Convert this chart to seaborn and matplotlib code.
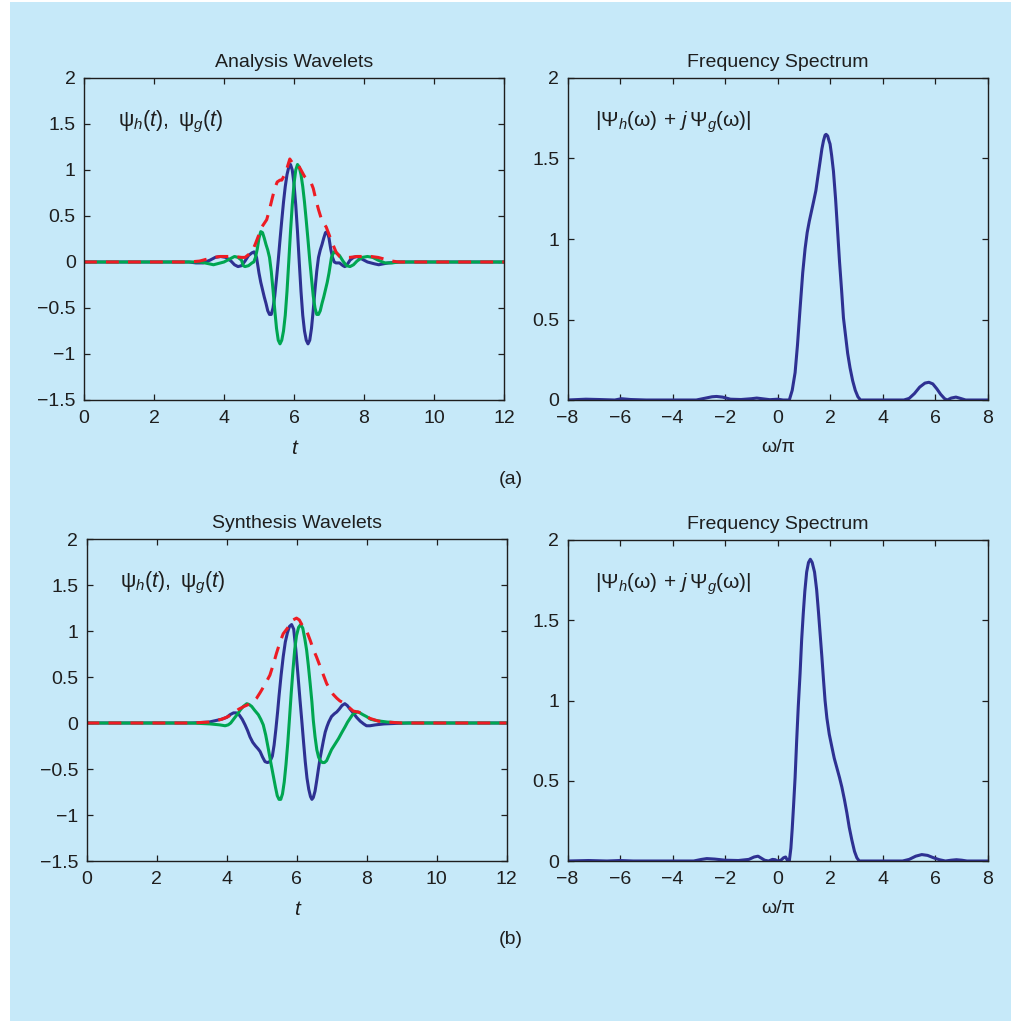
import numpy as np
import pandas as pd
import matplotlib
matplotlib.use("Agg")
import matplotlib.pyplot as plt
import seaborn as sns
from matplotlib.patches import Rectangle

# ---------------- data ----------------
# (a) Analysis wavelets
ta_h = [0, 3.0, 3.2, 3.4, 3.6, 3.75, 3.9, 4.05, 4.2, 4.3, 4.4, 4.5, 4.6, 4.7, 4.8, 4.86, 4.93,
        5.0, 5.05, 5.1, 5.15, 5.2, 5.25, 5.3, 5.35, 5.4, 5.45, 5.5, 5.55, 5.6, 5.65, 5.7, 5.75,
        5.8, 5.85, 5.9, 5.95, 6.0, 6.05, 6.1, 6.15, 6.2, 6.25, 6.3, 6.35, 6.4, 6.45, 6.5, 6.55,
        6.6, 6.65, 6.7, 6.75, 6.8, 6.85, 6.9, 6.95, 7.0, 7.05, 7.1, 7.15, 7.2, 7.3, 7.4, 7.45,
        7.5, 7.6, 7.7, 7.8, 7.9, 8.0, 8.1, 8.2, 8.3, 8.42, 8.55, 8.7, 9.0, 12]
va_h = [0, 0, -0.01, -0.01, 0.02, 0.05, 0.06, 0.05, 0.01, -0.03, -0.05, -0.04, 0.01, 0.07, 0.10, 0.11, 0.05,
        -0.12, -0.22, -0.30, -0.38, -0.45, -0.53, -0.57, -0.57, -0.50, -0.37, -0.18, 0.02, 0.24, 0.45, 0.65, 0.82,
        0.95, 1.03, 1.06, 1.00, 0.85, 0.62, 0.33, 0.0, -0.32, -0.58, -0.75, -0.85, -0.89, -0.85, -0.72, -0.52,
        -0.30, -0.10, 0.05, 0.13, 0.19, 0.26, 0.32, 0.33, 0.26, 0.14, 0.05, 0.0, -0.01, -0.01, -0.04, -0.05,
        -0.04, 0.02, 0.05, 0.06, 0.04, 0.02, 0.0, -0.01, -0.02, -0.03, -0.02, -0.01, 0, 0]

ta_g = [0, 3.0, 3.3, 3.45, 3.58, 3.7, 3.8, 3.9, 4.0, 4.1, 4.2, 4.3, 4.4, 4.5, 4.55, 4.6, 4.7, 4.8,
        4.85, 4.9, 4.95, 5.0, 5.05, 5.1, 5.15, 5.2, 5.25, 5.3, 5.35, 5.4, 5.45, 5.5, 5.55, 5.6, 5.65,
        5.7, 5.75, 5.8, 5.85, 5.9, 5.95, 6.0, 6.05, 6.1, 6.15, 6.2, 6.25, 6.3, 6.35, 6.4, 6.45, 6.5,
        6.55, 6.6, 6.65, 6.7, 6.75, 6.8, 6.85, 6.9, 6.95, 7.0, 7.07, 7.14, 7.2, 7.3, 7.4, 7.5, 7.6,
        7.7, 7.8, 7.95, 8.1, 8.25, 8.4, 8.6, 8.8, 9.0, 12]
va_g = [0, 0, 0, -0.01, -0.02, -0.03, -0.02, -0.01, 0.0, 0.02, 0.04, 0.06, 0.05, 0.02, -0.04, -0.05, -0.04, -0.01,
        0.0, 0.05, 0.14, 0.26, 0.33, 0.32, 0.26, 0.19, 0.13, 0.05, -0.10, -0.30, -0.52, -0.72, -0.85, -0.89, -0.85,
        -0.75, -0.58, -0.32, 0.0, 0.33, 0.62, 0.85, 1.00, 1.06, 1.03, 0.95, 0.82, 0.65, 0.45, 0.24, 0.02, -0.18,
        -0.37, -0.50, -0.57, -0.57, -0.53, -0.45, -0.38, -0.30, -0.22, -0.12, 0.05, 0.11, 0.10, 0.07, 0.01, -0.04, -0.05,
        -0.03, 0.01, 0.05, 0.06, 0.05, 0.02, -0.01, -0.01, 0, 0]

ta_e = [0, 3.0, 3.3, 3.5, 3.7, 3.9, 4.1, 4.3, 4.5, 4.6, 4.7, 4.8, 4.9, 5.0, 5.08, 5.15, 5.22, 5.3,
        5.37, 5.45, 5.52, 5.6, 5.65, 5.72, 5.8, 5.88, 5.95, 6.02, 6.1, 6.2, 6.3, 6.4, 6.48, 6.55,
        6.63, 6.7, 6.78, 6.85, 6.92, 7.0, 7.1, 7.2, 7.3, 7.4, 7.5, 7.6, 7.8, 8.0, 8.2, 8.4, 8.6,
        8.8, 9.0, 12]
va_e = [0, 0, 0.01, 0.03, 0.05, 0.06, 0.06, 0.06, 0.05, 0.05, 0.08, 0.11, 0.20, 0.30, 0.38, 0.42, 0.46, 0.57,
        0.68, 0.80, 0.87, 0.89, 0.89, 0.94, 1.02, 1.12, 1.08, 1.07, 1.07, 1.00, 0.93, 0.89, 0.87, 0.80,
        0.67, 0.57, 0.47, 0.42, 0.38, 0.30, 0.20, 0.11, 0.06, 0.05, 0.05, 0.05, 0.06, 0.06, 0.06, 0.05, 0.03,
        0.01, 0.0, 0]

# (a) spectrum
wa = [-8, -7.3, -6.8, -6.2, -5.95, -5.6, -5.0, -3.1, -2.8, -2.5, -2.33, -2.1, -1.8, -1.4, -1.0, -0.8,
      -0.6, -0.3, 0.0, 0.2, 0.44, 0.55, 0.66, 0.75, 0.85, 0.95, 1.04, 1.12, 1.2, 1.28, 1.36, 1.45,
      1.52, 1.61, 1.68, 1.74, 1.8, 1.84, 1.9, 1.95, 1.99, 2.05, 2.12, 2.2, 2.27, 2.35, 2.43, 2.5,
      2.58, 2.66, 2.75, 2.85, 2.95, 3.05, 3.15, 4.8, 5.0, 5.2, 5.4, 5.6, 5.75, 5.9, 6.05, 6.2,
      6.35, 6.45, 6.6, 6.78, 6.95, 7.15, 8]
sa = [0, 0.005, 0.003, 0.0, 0.008, 0.003, 0.0, 0.0, 0.01, 0.02, 0.022, 0.018, 0.005, 0.003, 0.008, 0.012,
      0.008, 0.002, 0.005, 0.0, 0.0, 0.06, 0.17, 0.34, 0.57, 0.79, 0.94, 1.04, 1.11, 1.17, 1.23, 1.30,
      1.38, 1.48, 1.56, 1.61, 1.645, 1.65, 1.64, 1.61, 1.59, 1.52, 1.42, 1.25, 1.07, 0.86, 0.68, 0.51,
      0.40, 0.29, 0.20, 0.12, 0.06, 0.02, 0.0, 0.0, 0.01, 0.04, 0.08, 0.105, 0.11, 0.10, 0.07, 0.035,
      0.008, 0.0, 0.012, 0.018, 0.01, 0.0, 0]

# (b) Synthesis wavelets
tb_h = [0, 3.0, 3.5, 3.85, 4.0, 4.1, 4.2, 4.28, 4.36, 4.45, 4.53, 4.6, 4.67, 4.75, 4.83, 4.9, 4.96,
        5.03, 5.1, 5.17, 5.24, 5.31, 5.36, 5.41, 5.46, 5.5, 5.56, 5.62, 5.68, 5.74, 5.8, 5.86, 5.92,
        5.98, 6.04, 6.1, 6.15, 6.2, 6.25, 6.3, 6.35, 6.4, 6.44, 6.48, 6.53, 6.58, 6.63, 6.68, 6.72,
        6.77, 6.82, 6.87, 6.92, 7.0, 7.08, 7.15, 7.22, 7.3, 7.38, 7.45, 7.53, 7.62, 7.72, 7.82, 7.92,
        8.0, 8.1, 8.26, 8.5, 8.8, 9.2, 12]
vb_h = [0, 0, 0.01, 0.04, 0.06, 0.09, 0.11, 0.11, 0.09, 0.04, -0.02, -0.08, -0.15, -0.21, -0.25, -0.28, -0.31,
        -0.37, -0.42, -0.43, -0.42, -0.36, -0.24, -0.07, 0.12, 0.29, 0.52, 0.72, 0.88, 0.98, 1.05, 1.07, 1.02,
        0.80, 0.53, 0.25, 0.03, -0.20, -0.42, -0.60, -0.72, -0.80, -0.83, -0.81, -0.74, -0.62, -0.49, -0.37, -0.29,
        -0.19, -0.10, -0.04, 0.01, 0.07, 0.10, 0.12, 0.15, 0.19, 0.21, 0.19, 0.15, 0.11, 0.06, 0.02, -0.01,
        -0.03, -0.03, -0.02, -0.01, -0.005, 0, 0]

tb_g = [0, 3.0, 3.53, 3.8, 3.96, 4.05, 4.12, 4.2, 4.3, 4.39, 4.48, 4.58, 4.65, 4.72, 4.8, 4.91, 4.98,
        5.05, 5.12, 5.2, 5.27, 5.34, 5.4, 5.45, 5.5, 5.55, 5.6, 5.65, 5.7, 5.75, 5.8, 5.85, 5.9, 5.95,
        6.0, 6.06, 6.12, 6.18, 6.24, 6.29, 6.34, 6.39, 6.44, 6.48, 6.53, 6.58, 6.63, 6.68, 6.74, 6.8,
        6.86, 6.93, 7.0, 7.1, 7.2, 7.3, 7.39, 7.46, 7.53, 7.6, 7.67, 7.75, 7.81, 7.9, 8.0, 8.12, 8.24,
        8.4, 8.6, 9.0, 12]
vb_g = [0, 0, -0.01, -0.02, -0.03, -0.02, 0.0, 0.04, 0.09, 0.14, 0.18, 0.21, 0.20, 0.18, 0.14, 0.09, 0.04,
        -0.02, -0.13, -0.29, -0.44, -0.58, -0.70, -0.79, -0.83, -0.83, -0.77, -0.64, -0.45, -0.22, 0.05, 0.33, 0.58, 0.80,
        0.95, 1.04, 1.07, 1.03, 0.91, 0.79, 0.62, 0.43, 0.23, 0.03, -0.15, -0.29, -0.37, -0.41, -0.43, -0.43,
        -0.41, -0.35, -0.29, -0.23, -0.17, -0.10, -0.04, 0.01, 0.05, 0.09, 0.11, 0.12, 0.11, 0.09, 0.07, 0.04, 0.03,
        0.02, 0.01, 0, 0]

tb_e = [0, 3.0, 3.5, 3.86, 4.05, 4.2, 4.35, 4.5, 4.62, 4.75, 4.86, 4.96, 5.1, 5.24, 5.34, 5.43, 5.53,
        5.62, 5.72, 5.8, 5.9, 6.0, 6.08, 6.18, 6.3, 6.39, 6.48, 6.57, 6.67, 6.77, 6.86, 6.96, 7.05,
        7.15, 7.24, 7.34, 7.43, 7.53, 7.62, 7.75, 7.86, 7.95, 8.1, 8.34, 8.6, 9.0, 12]
vb_e = [0, 0, 0.01, 0.04, 0.07, 0.11, 0.15, 0.18, 0.20, 0.23, 0.27, 0.33, 0.42, 0.52, 0.64, 0.76, 0.88,
        0.97, 1.02, 1.06, 1.12, 1.14, 1.12, 1.05, 0.99, 0.90, 0.80, 0.72, 0.62, 0.52, 0.43, 0.36, 0.31,
        0.27, 0.24, 0.22, 0.20, 0.16, 0.13, 0.12, 0.11, 0.08, 0.05, 0.02, 0.01, 0.0, 0]

# (b) spectrum
wb = [-8, -7.2, -6.5, -6.0, -5.5, -3.2, -2.9, -2.7, -2.4, -2.0, -1.5, -1.1, -0.9, -0.75, -0.6, -0.5,
      -0.35, -0.2, -0.1, 0.0, 0.12, 0.22, 0.3, 0.38, 0.44, 0.5, 0.55, 0.6, 0.66, 0.72, 0.78, 0.85,
      0.91, 0.97, 1.03, 1.1, 1.17, 1.24, 1.31, 1.4, 1.48, 1.55, 1.61, 1.68, 1.74, 1.8, 1.87, 1.96,
      2.06, 2.15, 2.25, 2.35, 2.44, 2.54, 2.63, 2.72, 2.82, 2.92, 3.01, 3.1, 4.75, 5.0, 5.25, 5.48,
      5.7, 5.93, 6.15, 6.38, 6.6, 6.8, 7.0, 7.2, 8]
sb = [0, 0.003, 0.0, 0.003, 0.0, 0.0, 0.01, 0.015, 0.012, 0.005, 0.003, 0.01, 0.025, 0.03, 0.015, 0.005,
      0.0, 0.01, 0.008, 0.0, 0.005, 0.02, 0.025, 0.0, 0.0, 0.08, 0.20, 0.34, 0.52, 0.75, 0.96, 1.17,
      1.38, 1.54, 1.68, 1.80, 1.86, 1.88, 1.86, 1.80, 1.69, 1.55, 1.42, 1.27, 1.13, 1.00, 0.89, 0.79,
      0.71, 0.64, 0.58, 0.52, 0.46, 0.38, 0.30, 0.21, 0.13, 0.06, 0.02, 0.0, 0.0, 0.01, 0.03, 0.04,
      0.035, 0.02, 0.008, 0.0, 0.005, 0.008, 0.005, 0.0, 0]

titles = ["Analysis Wavelets", "Frequency Spectrum", "Synthesis Wavelets", "Frequency Spectrum"]
wave_yticks = [-1.5, -1, -0.5, 0, 0.5, 1, 1.5, 2]
wave_yticklabels = ["\u22121.5", "\u22121", "\u22120.5", "0", "0.5", "1", "1.5", "2"]
wave_xticks = [0, 2, 4, 6, 8, 10, 12]
spec_yticks = [0, 0.5, 1, 1.5, 2]
spec_yticklabels = ["0", "0.5", "1", "1.5", "2"]
spec_xticks = [-8, -6, -4, -2, 0, 2, 4, 6, 8]
spec_xticklabels = ["\u22128", "\u22126", "\u22124", "\u22122", "0", "2", "4", "6", "8"]

# ---------------- style ----------------
BG = "#C6E9F9"
BLUE = "#2E3192"
GREEN = "#00A651"
RED = "#ED1C24"
INK = "#1E1E1E"

sns.set_theme(style="ticks")
plt.rcParams["font.family"] = ["Liberation Sans", "DejaVu Sans"]
plt.rcParams["mathtext.fontset"] = "custom"
plt.rcParams["mathtext.rm"] = "Liberation Sans"
plt.rcParams["mathtext.it"] = "Liberation Sans:italic"
plt.rcParams["mathtext.bf"] = "Liberation Sans:bold"
plt.rcParams["axes.unicode_minus"] = True

fig = plt.figure(figsize=(10.11, 10.23), dpi=100, facecolor="white")
W, H = 1011.0, 1023.0
fig.patches.append(Rectangle((10 / W, 1 - 1021 / H), 1 - 10 / W, (1021 - 2) / H,
                             transform=fig.transFigure, facecolor=BG, edgecolor="none", zorder=-10))


def make_ax(left, top, right, bottom):
    return fig.add_axes([left / W, 1 - bottom / H, (right - left) / W, (bottom - top) / H])


axes = [make_ax(84, 78, 504, 400), make_ax(567.5, 78, 988, 400),
        make_ax(86.5, 539, 506.5, 861), make_ax(567.5, 540, 988, 861)]

LW = 2.2
DASH = (0, (4.2, 3.0))
TICK_FS = 14
TITLE_FS = 14


def style_ax(ax, title):
    ax.set_facecolor("none")
    for s in ax.spines.values():
        s.set_color(INK)
        s.set_linewidth(1.0)
        s.set_visible(True)
    ax.tick_params(direction="in", top=True, right=True, length=4, width=0.9,
                   colors=INK, labelsize=TICK_FS)
    ax.tick_params(axis="x", pad=7)
    ax.tick_params(axis="y", pad=6)
    ax.set_title(title, fontsize=TITLE_FS, color=INK, pad=8)


def wave_panel(ax, t_h, v_h, t_g, v_g, t_e, v_e, title):
    sns.lineplot(x=t_h, y=v_h, ax=ax, color=BLUE, linewidth=LW, sort=False)
    sns.lineplot(x=t_g, y=v_g, ax=ax, color=GREEN, linewidth=LW, sort=False)
    sns.lineplot(x=t_e, y=v_e, ax=ax, color=RED, linewidth=LW, sort=False, linestyle=DASH)
    ax.set_xlim(0, 12)
    ax.set_ylim(-1.5, 2)
    ax.set_xticks(wave_xticks)
    ax.set_xticklabels([str(v) for v in wave_xticks])
    ax.set_yticks(wave_yticks)
    ax.set_yticklabels(wave_yticklabels)
    style_ax(ax, title)
    ax.set_xlabel("t", fontsize=15, fontstyle="italic", color=INK, labelpad=9)
    ax.set_ylabel("")
    ax.text(0.08, 0.862, r"$\mathrm{\psi}_h(t),\ \mathrm{\psi}_g(t)$", transform=ax.transAxes,
            fontsize=15.5, color=INK, va="center", ha="left")


def spec_panel(ax, w, s, title):
    sns.lineplot(x=w, y=s, ax=ax, color=BLUE, linewidth=LW, sort=False)
    ax.set_xlim(-8, 8)
    ax.set_ylim(0, 2)
    ax.set_xticks(spec_xticks)
    ax.set_xticklabels(spec_xticklabels)
    ax.set_yticks(spec_yticks)
    ax.set_yticklabels(spec_yticklabels)
    style_ax(ax, title)
    ax.set_xlabel("\u03c9/\u03c0", fontsize=14, color=INK, labelpad=9)
    ax.set_ylabel("")
    ax.text(0.065, 0.862, r"$|\Psi_h(\mathrm{\omega})\,+\,j\,\Psi_g(\mathrm{\omega})|$",
            transform=ax.transAxes, fontsize=15, color=INK, va="center", ha="left")


wave_panel(axes[0], ta_h, va_h, ta_g, va_g, ta_e, va_e, titles[0])
spec_panel(axes[1], wa, sa, titles[1])
wave_panel(axes[2], tb_h, vb_h, tb_g, vb_g, tb_e, vb_e, titles[2])
spec_panel(axes[3], wb, sb, titles[3])

fig.text(511 / W, 1 - 479 / H, "(a)", fontsize=14, ha="center", va="center", color=INK)
fig.text(511 / W, 1 - 940 / H, "(b)", fontsize=14, ha="center", va="center", color=INK)

fig.savefig("out.png", dpi=100, facecolor="white")
